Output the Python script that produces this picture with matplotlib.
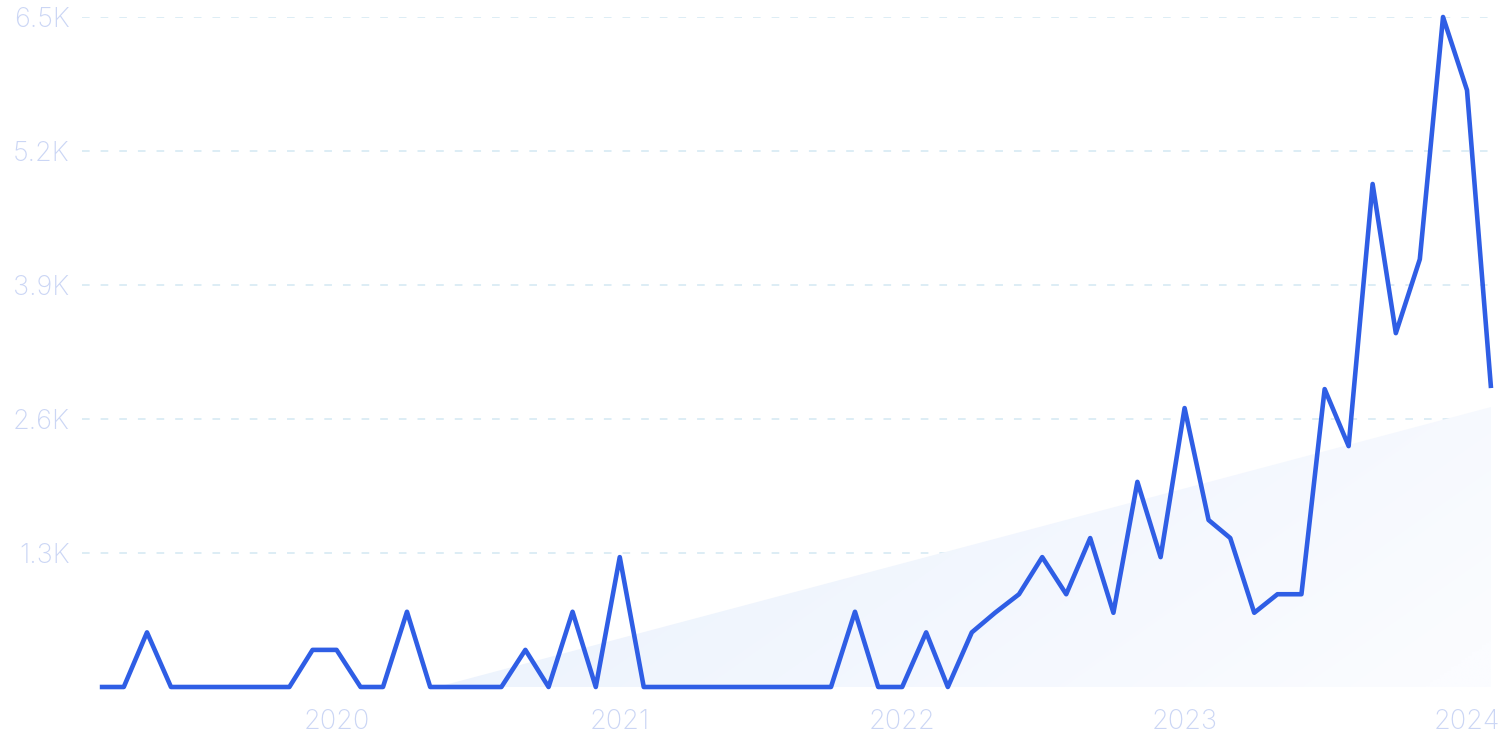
import matplotlib
matplotlib.use("Agg")
import matplotlib.pyplot as plt
import matplotlib.dates as mdates
import numpy as np
import pandas as pd
from matplotlib.colors import to_rgb
from matplotlib.patches import Polygon

# =========================
# DATA
# =========================
months = pd.date_range("2019-03-01", "2024-02-01", freq="MS")
values = [
    0, 0, 530, 0, 0, 0, 0, 0, 0, 360,        # 2019-03 .. 2019-12
    360, 0, 0, 730, 0, 0, 0, 0, 360, 0,      # 2020-01 .. 2020-10
    730, 0, 1260, 0, 0, 0, 0, 0, 0, 0,       # 2020-11 .. 2021-08
    0, 0, 730, 0, 0, 530, 0, 530, 720, 900,  # 2021-09 .. 2022-06
    1260, 900, 1445, 720, 1990, 1260, 2706, 1620, 1445, 720,  # 2022-07 .. 2023-04
    900, 900, 2890, 2337, 4880, 3433, 4150, 6500, 5790, 2900,  # 2023-05 .. 2024-02
]

# trend band (linear): start where it leaves zero, end at last month
trend_dates = [pd.Timestamp("2020-05-10"), pd.Timestamp("2024-02-01")]
trend_vals = [0, 2716]

yticks = [1300, 2600, 3900, 5200, 6500]
ytick_labels = ["1.3K", "2.6K", "3.9K", "5.2K", "6.5K"]
xtick_years = [2020, 2021, 2022, 2023, 2024]

LINE_COLOR = "#2f5ee5"
TEXT_COLOR = "#cbd6f5"
GRID_COLOR = "#d3e8f3"

plt.rcParams["font.family"] = ["Inter", "DejaVu Sans"]

# =========================
# FIGURE
# =========================
W, H = 1505, 752
fig = plt.figure(figsize=(W / 100, H / 100), dpi=100)
ax = fig.add_axes([82 / W, (H - 687) / H, (1491 - 82) / W, 670 / H])

x_num = mdates.date2num(months)
x_left = mdates.date2num(months[0] - pd.Timedelta(days=23))
x_right = mdates.date2num(months[-1])
ax.set_xlim(x_left, x_right)
ax.set_ylim(0, 6500)

# gradient trend fill
tx = mdates.date2num(trend_dates)
poly = Polygon([(tx[0], 0), (tx[1], trend_vals[1]), (tx[1], 0)],
               closed=True, facecolor="none", edgecolor="none")
ax.add_patch(poly)
nx, ny = 300, 150
gx = np.linspace(0, 1, nx)[None, :]
gy = np.linspace(0, 1, ny)[:, None]  # 0 at bottom
c0 = np.array(to_rgb("#e9f1fd"))
c1 = np.array(to_rgb("#fbfcff"))
t = np.clip(0.8 * gx + 0.3 * (1 - gy) - 0.05, 0, 1)
img = c0[None, None, :] * (1 - t[..., None]) + c1[None, None, :] * t[..., None]
im = ax.imshow(img, extent=[tx[0], tx[1], 0, trend_vals[1]], origin="lower",
               aspect="auto", zorder=1, interpolation="bilinear")
im.set_clip_path(poly)

ax.plot(x_num, values, color=LINE_COLOR, lw=3.3, zorder=3, clip_on=False,
        solid_joinstyle="round", solid_capstyle="butt")

# grid & ticks
for yv in yticks:
    ax.axhline(yv, color=GRID_COLOR, lw=1.1, ls=(0, (5, 7.2)), zorder=0)

ax.set_yticks(yticks)
ax.set_yticklabels(ytick_labels)
ax.set_xticks([mdates.date2num(pd.Timestamp(f"{y}-01-01")) for y in xtick_years])
ax.set_xticklabels([str(y) for y in xtick_years])
ax.tick_params(axis="both", length=0, colors=TEXT_COLOR, labelsize=19.5)
ax.tick_params(axis="y", pad=9)
ax.tick_params(axis="x", pad=16)
for lbl in ax.get_xticklabels() + ax.get_yticklabels():
    lbl.set_fontweight("light")

for s in ax.spines.values():
    s.set_visible(False)

fig.savefig("out.png", dpi=100)
